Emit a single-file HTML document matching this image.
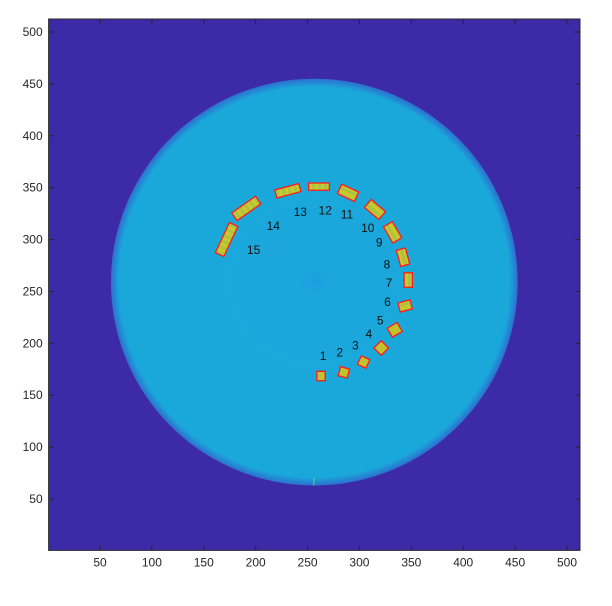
<!DOCTYPE html>
<html><head><meta charset="utf-8"><style>
body{margin:0;background:#fff;}
svg{display:block;font-family:"Liberation Sans",sans-serif;}
</style></head><body>
<svg id="c" width="612" height="606">
<defs>
<radialGradient id="disk" cx="0.5" cy="0.5" r="0.5">
<stop offset="0" stop-color="#1c9fe0"/><stop offset="0.08" stop-color="#1ba7dc"/>
<stop offset="0.96" stop-color="#1aa8da"/><stop offset="1" stop-color="#2d6fcf"/>
</radialGradient>
<pattern id="stripe" width="6" height="6" patternUnits="userSpaceOnUse">
<rect width="6" height="6" fill="#cfc82a"/><rect width="3" height="6" fill="#a9c443"/>
</pattern>
</defs>
<g id="plot"></g>
</svg>
<script>
const xTicks=[50,100,150,200,250,300,350,400,450,500];
const yTicks=[50,100,150,200,250,300,350,400,450,500];
const diskCenter=[256.5,259];
const diskRadius=[196];
const markerX=[263,285,304,321,334,344,347,342,332,315,289,261,231,191,172];
const markerY=[168.5,172,182,195.5,213,236,261,283,307,329,345,351,347,330,300];
const markerW=[8,9,9,10,10,9,8,9,10,10,10,20,24,28,32];
const markerH=[9,9,9,10,11,12,14,16,18,18,18,7,8,9,9];
const markerRot=[0,15,25,45,60,75,0,-15,-30,-50,-65,0,-15,-35,-65];
const labelText=["1","2","3","4","5","6","7","8","9","10","11","12","13","14","15"];
const labelX=[265,281,296,309,320,327,328.5,326.5,319,308,288,267,243,217,198];
const labelY=[188,191,198,209,222,240,258,276,297,311,324,328,326.5,313,290];

const S=1.0378;
const px=v=>100+(v-50)*S, py=v=>499-(v-50)*S;
const L=px(0.5),R=px(512.5),T=py(512.5),B=py(0.5);
const g=document.getElementById('plot');
const NS="http://www.w3.org/2000/svg";
function mk(t,a,p){const e=document.createElementNS(NS,t);for(const k in a)e.setAttribute(k,a[k]);(p||g).appendChild(e);return e;}

let bg=mk('rect',{x:L,y:T,width:R-L,height:B-T,fill:'#3d2aa6'});


let d=mk('circle',{cx:px(diskCenter[0]),cy:py(diskCenter[1]),r:diskRadius[0]*S,fill:'url(#disk)'});


let gt=mk('line',{x1:px(256),x2:px(256),y1:py(71),y2:py(63),stroke:'#28d08a','stroke-width':1.5});



for(let i=0;i<markerX.length;i++){
  const cx=px(markerX[i]),cy=py(markerY[i]),w=markerW[i]*S,h=markerH[i]*S;
  const r=mk('rect',{x:cx-w/2,y:cy-h/2,width:w,height:h,fill:(w>12||h>12)?'url(#stripe)':'#c2c22e',stroke:'#ff1a1a','stroke-width':1.3,transform:`rotate(${markerRot[i]} ${cx} ${cy})`});
  
  
  const t=mk('text',{x:px(labelX[i]),y:py(labelY[i])+4,'font-size':12,'text-anchor':'middle',fill:'#111'});
  t.textContent=labelText[i];
  
  
}

let fr=mk('rect',{x:L,y:T,width:R-L,height:B-T,fill:'none',stroke:'#262626','stroke-width':1});


xTicks.forEach(v=>{
  const x=px(v);
  mk('line',{x1:x,x2:x,y1:B,y2:B-5,stroke:'#262626'});
  mk('line',{x1:x,x2:x,y1:T,y2:T+5,stroke:'#262626'});
  const t=mk('text',{x:x,y:B+16,'font-size':12,'text-anchor':'middle',fill:'#262626'});
  t.textContent=v;
  
  
});
yTicks.forEach(v=>{
  const y=py(v);
  mk('line',{x1:L,x2:L+5,y1:y,y2:y,stroke:'#262626'});
  mk('line',{x1:R,x2:R-5,y1:y,y2:y,stroke:'#262626'});
  const t=mk('text',{x:L-6,y:y+4,'font-size':12,'text-anchor':'end',fill:'#262626'});
  t.textContent=v;
  
  
});
</script>
</body></html>
